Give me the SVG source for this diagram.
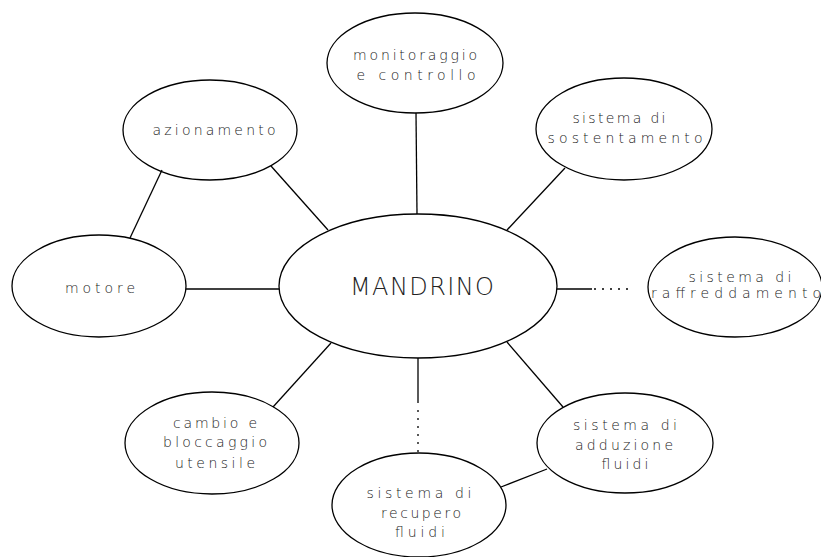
<svg xmlns="http://www.w3.org/2000/svg" width="821" height="557" viewBox="0 0 821 557">
<style>
.node ellipse{fill:none;stroke:#000;stroke-width:1.3}
.lbl{font-family:"DejaVu Sans","Liberation Sans",Arial,sans-serif;font-size:14px;font-weight:200;fill:#222;text-anchor:middle}
.big{font-family:"DejaVu Sans","Liberation Sans",Arial,sans-serif;font-size:24px;font-weight:200;fill:#222;text-anchor:middle}
#connectors line{stroke:#000;stroke-width:1.3}
#connectors .dot{stroke-dasharray:2 6}
</style>
<rect width="821" height="557" fill="#fff"/>
<g id="connectors">
<line x1="416" y1="113" x2="417" y2="214"/>
<line x1="565" y1="168" x2="507" y2="230"/>
<line x1="271" y1="166" x2="328" y2="230"/>
<line x1="162" y1="170" x2="130" y2="238"/>
<line x1="186" y1="289" x2="279" y2="289"/>
<line x1="557" y1="289" x2="592" y2="289"/>
<line class="dot" x1="594" y1="289" x2="633" y2="289"/>
<line x1="418" y1="358" x2="418" y2="403"/>
<line class="dot" x1="418" y1="410" x2="418" y2="453"/>
<line x1="273" y1="407" x2="331" y2="343"/>
<line x1="507" y1="342" x2="563" y2="407"/>
<line x1="501" y1="487" x2="547" y2="469"/>
</g>
<g id="mandrino" class="node">
<ellipse cx="418" cy="286" rx="139" ry="72"/>
<text class="big" x="422" y="295" textLength="144" lengthAdjust="spacing">MANDRINO</text>
</g>
<g id="monitoraggio" class="node">
<ellipse cx="415" cy="63" rx="88" ry="50"/>
<text class="lbl" x="415" y="60" textLength="124" lengthAdjust="spacing">monitoraggio</text>
<text class="lbl" x="416" y="80" textLength="119" lengthAdjust="spacing">e controllo</text>
</g>
<g id="sostentamento" class="node">
<ellipse cx="624" cy="129" rx="88" ry="51"/>
<text class="lbl" x="619" y="123" textLength="93" lengthAdjust="spacing">sistema di</text>
<text class="lbl" x="625" y="143" textLength="155" lengthAdjust="spacing">sostentamento</text>
</g>
<g id="azionamento" class="node">
<ellipse cx="210" cy="130" rx="87" ry="50"/>
<text class="lbl" x="214" y="135" textLength="123" lengthAdjust="spacing">azionamento</text>
</g>
<g id="motore" class="node">
<ellipse cx="99" cy="286" rx="87" ry="51"/>
<text class="lbl" x="100" y="293" textLength="70" lengthAdjust="spacing">motore</text>
</g>
<g id="raffreddamento" class="node">
<ellipse cx="735" cy="287" rx="87" ry="50"/>
<text class="lbl" x="740" y="282" textLength="103" lengthAdjust="spacing">sistema di</text>
<text class="lbl" x="736" y="298" textLength="170" lengthAdjust="spacing">raffreddamento</text>
</g>
<g id="cambio" class="node">
<ellipse cx="212" cy="443" rx="87" ry="51"/>
<text class="lbl" x="215" y="428" textLength="84" lengthAdjust="spacing">cambio e</text>
<text class="lbl" x="215" y="447" textLength="104" lengthAdjust="spacing">bloccaggio</text>
<text class="lbl" x="215" y="468" textLength="80" lengthAdjust="spacing">utensile</text>
</g>
<g id="adduzione" class="node">
<ellipse cx="625" cy="443" rx="88" ry="50"/>
<text class="lbl" x="625" y="430" textLength="104" lengthAdjust="spacing">sistema di</text>
<text class="lbl" x="624" y="450" textLength="98" lengthAdjust="spacing">adduzione</text>
<text class="lbl" x="625" y="469" textLength="47" lengthAdjust="spacing">fluidi</text>
</g>
<g id="recupero" class="node">
<ellipse cx="419" cy="505" rx="87" ry="52"/>
<text class="lbl" x="419" y="498" textLength="105" lengthAdjust="spacing">sistema di</text>
<text class="lbl" x="421" y="518" textLength="80" lengthAdjust="spacing">recupero</text>
<text class="lbl" x="420" y="537" textLength="50" lengthAdjust="spacing">fluidi</text>
</g>
</svg>
